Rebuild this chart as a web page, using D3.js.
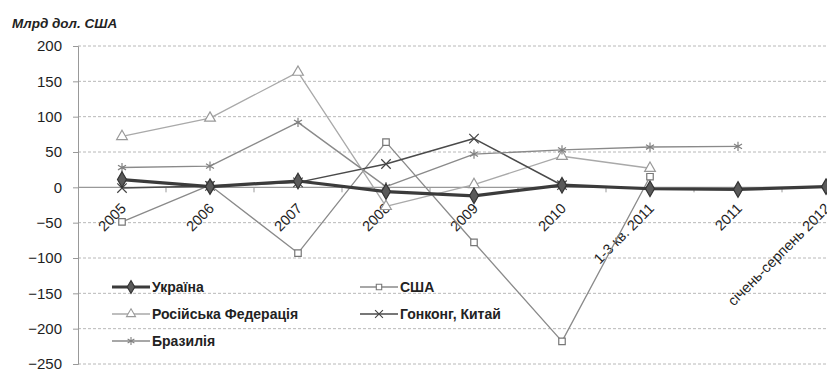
<!DOCTYPE html>
<html>
<head>
<meta charset="utf-8">
<script src="https://cdn.jsdelivr.net/npm/d3@7"></script>
<style>
  html, body { margin: 0; padding: 0; background: #fff; }
  svg { display: block; font-family: "Liberation Sans", Arial, sans-serif; }
</style>
</head>
<body>
<svg id="chart" width="827" height="372"></svg>
<script>
// Categories (periods) along the x axis
const categories = ["2005", "2006", "2007", "2008", "2009", "2010", "1-3 кв. 2011", "2011", "січень-серпень 2012"];

// Series values, млрд дол. США (null = no data)
const ukraine   = [11, 1, 9, -6, -12, 3, -2, -3, 1];
const usa       = [-49, 3, -93, 64, -78, -218, 15, null, null];
const russia    = [72, 98, 163, -27, 4, 44, 27, null, null];
const hongKong  = [-1, 2, 7, 33, 69, 3, null, null, null];
const brazil    = [28, 30, 92, 1, 47, 53, 57, 58, null];

// Y axis ticks
const yTicks = [200, 150, 100, 50, 0, -50, -100, -150, -200, -250];

const seriesNames = ["Україна", "США", "Російська Федерація", "Гонконг, Китай", "Бразилія"];

const series = [
  { name: seriesNames[1], values: usa,      color: "#8a8a8a", width: 1.3, symbol: d3.symbolSquare,   size: 42, fill: "#fff",    stroke: "#777" },
  { name: seriesNames[2], values: russia,   color: "#a9a9a9", width: 1.3, symbol: d3.symbolTriangle, size: 50, fill: "#fff",    stroke: "#999" },
  { name: seriesNames[3], values: hongKong, color: "#4a4a4a", width: 1.5, symbol: d3.symbolTimes,    size: 60, fill: "none",    stroke: "#444" },
  { name: seriesNames[4], values: brazil,   color: "#8a8a8a", width: 1.4, symbol: d3.symbolAsterisk, size: 60, fill: "none",    stroke: "#808080" },
  { name: seriesNames[0], values: ukraine,  color: "#3b3b3b", width: 3.2, symbol: d3.symbolDiamond,  size: 70, fill: "#5a5a5a", stroke: "#333" }
];

const svg = d3.select("#chart");

const plot = { left: 78, top: 46, right: 870, bottom: 364 };

const x = d3.scaleBand().domain(categories).range([plot.left, plot.right]).padding(0);
const y = d3.scaleLinear().domain([-250, 200]).range([plot.bottom, plot.top]);

// Units caption
svg.append("text")
  .attr("x", 12).attr("y", 28)
  .attr("font-size", 13.5).attr("font-style", "italic").attr("font-weight", "bold")
  .attr("fill", "#222")
  .text("Млрд дол. США");

// Horizontal dashed gridlines
svg.append("g")
  .selectAll("line")
  .data(yTicks.filter(v => v !== 0))
  .join("line")
  .attr("x1", plot.left).attr("x2", plot.right)
  .attr("y1", d => y(d)).attr("y2", d => y(d))
  .attr("stroke", "#b8b8b8").attr("stroke-width", 1)
  .attr("stroke-dasharray", "3,2");

// Y axis
const yAxis = d3.axisLeft(y).tickValues(yTicks).tickSize(5).tickPadding(11);
const gy = svg.append("g").attr("transform", `translate(${plot.left},0)`).call(yAxis);
gy.select(".domain").attr("stroke", "#999");
gy.selectAll(".tick line").attr("stroke", "#999");
gy.selectAll(".tick text")
  .attr("font-size", 15).attr("fill", "#1e1e1e")
  .attr("font-family", "'Liberation Sans', Arial, sans-serif");

// Zero line with category boundary ticks
const gx = svg.append("g").attr("transform", `translate(0,${y(0)})`);
gx.append("line")
  .attr("x1", plot.left).attr("x2", plot.right)
  .attr("stroke", "#999").attr("stroke-width", 1.2);
gx.selectAll("line.tk")
  .data(categories.slice(1))
  .join("line")
  .attr("class", "tk")
  .attr("x1", d => x(d)).attr("x2", d => x(d))
  .attr("y1", 0).attr("y2", 5)
  .attr("stroke", "#999");

// Rotated category labels
gx.selectAll("text")
  .data(categories)
  .join("text")
  .attr("transform", d => `translate(${x(d) + x.bandwidth() / 2 + 5},${22}) rotate(-45)`)
  .attr("text-anchor", "end")
  .attr("font-size", 14.5)
  .attr("fill", "#1e1e1e")
  .text(d => d);

// Lines and markers
const cx = i => x(categories[i]) + x.bandwidth() / 2;
series.forEach(s => {
  const pts = s.values.map((v, i) => ({ v, i })).filter(p => p.v !== null);
  const line = d3.line().x(p => cx(p.i)).y(p => y(p.v));
  svg.append("path")
    .datum(pts)
    .attr("d", line)
    .attr("fill", "none")
    .attr("stroke", s.color)
    .attr("stroke-width", s.width)
    .attr("stroke-linejoin", "round");
  svg.append("g")
    .selectAll("path")
    .data(pts)
    .join("path")
    .attr("transform", p => `translate(${cx(p.i)},${y(p.v)})`)
    .attr("d", d3.symbol(s.symbol, s.size))
    .attr("fill", s.fill)
    .attr("stroke", s.stroke)
    .attr("stroke-width", 1.2);
});

// Legend
const legendItems = [
  { s: series[4], col: 0, row: 0 },
  { s: series[0], col: 1, row: 0 },
  { s: series[1], col: 0, row: 1 },
  { s: series[2], col: 1, row: 1 },
  { s: series[3], col: 0, row: 2 }
];
const legend = svg.append("g");
legendItems.forEach(it => {
  const lx = it.col === 0 ? 112 : 360;
  const ly = 287 + it.row * 27;
  const g = legend.append("g").attr("transform", `translate(${lx},${ly})`);
  g.append("line")
    .attr("x1", 0).attr("x2", 38)
    .attr("stroke", it.s.color).attr("stroke-width", it.s.width);
  g.append("path")
    .attr("transform", "translate(19,0)")
    .attr("d", d3.symbol(it.s.symbol, it.s.size * 0.7))
    .attr("fill", it.s.fill).attr("stroke", it.s.stroke).attr("stroke-width", 1.1);
  g.append("text")
    .attr("x", 40).attr("y", 5)
    .attr("font-size", 14).attr("font-weight", "bold")
    .attr("fill", "#222")
    .text(it.s.name);
});
</script>
</body>
</html>
